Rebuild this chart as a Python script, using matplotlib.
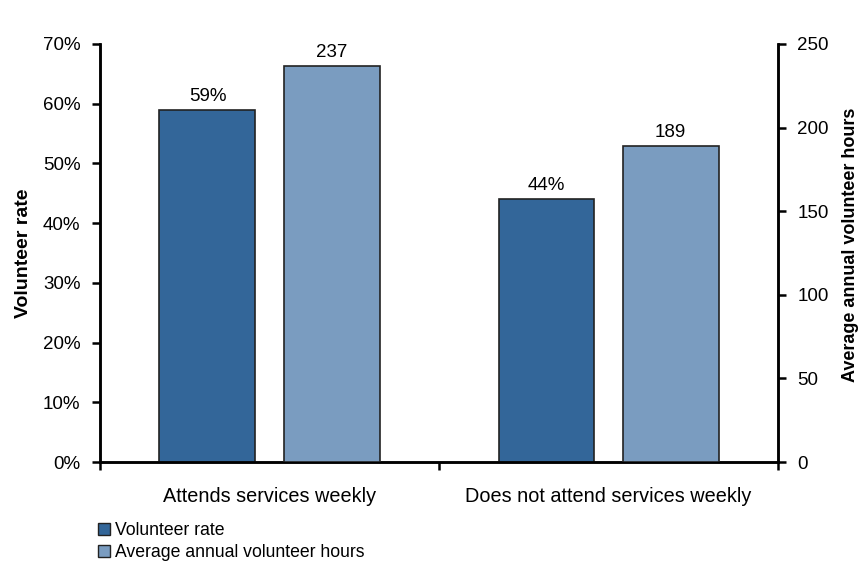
import numpy as np
import matplotlib.pyplot as plt
from matplotlib.patches import Patch

plt.rcParams['font.family'] = ['Liberation Sans', 'DejaVu Sans']

categories = ["Attends services weekly", "Does not attend services weekly"]
rate = [59, 44]          # percent, left axis
hours = [237, 189]       # right axis
rate_labels = ["59%", "44%"]
hour_labels = ["237", "189"]

dark = "#336699"
light = "#7a9cc0"
edge = "#222222"

fig = plt.figure(figsize=(8.62, 5.66), dpi=100)
ax = fig.add_axes([0.116, 0.1837, 0.7866, 0.7386])
ax2 = ax.twinx()

x = np.arange(len(categories))
w = 0.283
off = 0.183

b1 = ax.bar(x - off, rate, w, color=dark, edgecolor=edge, linewidth=1.2, zorder=3)
b2 = ax2.bar(x + off, hours, w, color=light, edgecolor=edge, linewidth=1.2, zorder=3)

for r, lab in zip(b1, rate_labels):
    ax.text(r.get_x() + r.get_width() / 2, r.get_height() + 0.8, lab,
            ha="center", va="bottom", fontsize=13.5)
for r, lab in zip(b2, hour_labels):
    ax2.text(r.get_x() + r.get_width() / 2, r.get_height() + 3, lab,
             ha="center", va="bottom", fontsize=13.5)

ax.set_xlim(-0.5, 1.5)
ax.set_ylim(0, 70)
ax2.set_ylim(0, 250)
ax.set_yticks(np.arange(0, 71, 10))
ax.set_yticklabels([f"{v}%" for v in range(0, 71, 10)])
ax2.set_yticks(np.arange(0, 251, 50))

# ticks sit between the categories, labels in the middle
ax.set_xticks([-0.5, 0.5, 1.5])
ax.set_xticklabels([])
ax.set_xticks(x, minor=True)
ax.set_xticklabels(categories, minor=True)
ax.tick_params(axis="x", which="minor", length=0, pad=18, labelsize=14.3)
ax.tick_params(axis="x", which="major", length=6, width=1.8)
ax.tick_params(axis="y", length=6, width=1.8, labelsize=13.5, pad=8)
ax2.tick_params(axis="y", length=6, width=1.8, labelsize=13.5, pad=8)

for a in (ax, ax2):
    a.spines["top"].set_visible(False)
    for s in ("left", "right", "bottom"):
        a.spines[s].set_linewidth(1.8)

ax.set_ylabel("Volunteer rate", fontsize=14, fontweight="bold", labelpad=8)
ax2.set_ylabel("Average annual volunteer hours", fontsize=13, fontweight="bold", labelpad=9)
ax2.yaxis.set_label_coords(1.095, 0.52)

handles = [Patch(facecolor=dark, edgecolor=edge, label="Volunteer rate"),
           Patch(facecolor=light, edgecolor=edge, label="Average annual volunteer hours")]
fig.legend(handles=handles, loc="lower left", bbox_to_anchor=(0.095, -0.02),
           frameon=False, fontsize=12.7,
           handlelength=0.7, handleheight=0.7,
           handletextpad=0.3, labelspacing=0.3)

fig.savefig("out.png", dpi=100)
